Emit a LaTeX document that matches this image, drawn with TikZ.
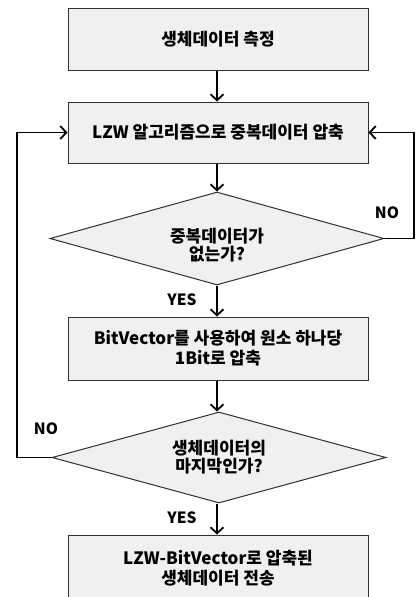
\documentclass[tikz,border=0pt]{standalone}
\usepackage{fontspec}
\setmainfont{Noto Sans CJK KR}
\usetikzlibrary{shapes.geometric,arrows.meta}
\definecolor{boxfill}{HTML}{F0F0F0}
\definecolor{boxline}{HTML}{303030}
\tikzset{
  procbox/.style={draw=boxline, fill=boxfill, line width=1pt, minimum width=300pt, inner sep=0pt, align=center, font=\fontsize{17}{20}\selectfont\bfseries},
  decision/.style={diamond, draw=boxline, fill=boxfill, line width=1pt, minimum width=334pt, aspect=3.6, inner sep=0pt, align=center, font=\fontsize{17}{18}\selectfont\bfseries},
  flow/.style={line width=1.8pt, -{Straight Barb[length=6pt,width=13pt,line width=1.8pt]}},
  lbl/.style={font=\fontsize{15.5}{17}\selectfont\bfseries, inner sep=0pt}
}
\begin{document}
\begin{tikzpicture}[x=1pt,y=-1pt]
\useasboundingbox (0,0) rectangle (415,597);
\clip (0,0) rectangle (415,597);
\fill[white] (0,0) rectangle (415,597);
\node[procbox, minimum height=62pt] (b1) at (218,39) {생체데이터 측정};
\node[procbox, minimum height=61pt] (b2) at (218,132.5) {LZW 알고리즘으로 중복데이터 압축};
\node[decision, minimum height=93pt] (d1) at (217,238.5) {};
\node[font=\fontsize{17}{18}\selectfont\bfseries, align=center, inner sep=0pt] (d1t) at (217,245) {중복데이터가\\없는가?};
\node[procbox, minimum height=63pt] (b3) at (218,348.5) {BitVector를 사용하여 원소 하나당\\1Bit로 압축};
\node[decision, minimum height=91pt] (d2) at (219,457.5) {생체데이터의\\마지막인가?};
\node[procbox, minimum height=66pt] (b4) at (218,568) {LZW-BitVector로 압축된\\생체데이터 전송};
\coordinate (lt) at (17,132.5);
\coordinate (lb) at (17,457.5);
\coordinate (rt) at (414,132.5);
\coordinate (rb) at (414,238.5);
\draw[flow] (b1.south -| 217,0) -- (b2.north -| 217,0);
\draw[flow] (b2.south -| 217,0) -- (d1.north -| 217,0);
\draw[flow] (d1.south -| 217,0) -- (b3.north -| 217,0);
\draw[flow] (b3.south -| 217,0) -- (d2.north -| 217,0);
\draw[flow] (d2.south -| 217,0) -- (b4.north -| 217,0);
\draw[flow] (d2.west) -- (lb) -- (lt) -- (b2.west);
\draw[flow] (d1.east) -- (rb) -- (rt) -- (b2.east);
\node[lbl] (no1) at (387,213) {NO};
\node[lbl] (no2) at (46,429) {NO};
\node[lbl] (yes1) at (182,300) {YES};
\node[lbl] (yes2) at (182,518) {YES};
\end{tikzpicture}
\end{document}
